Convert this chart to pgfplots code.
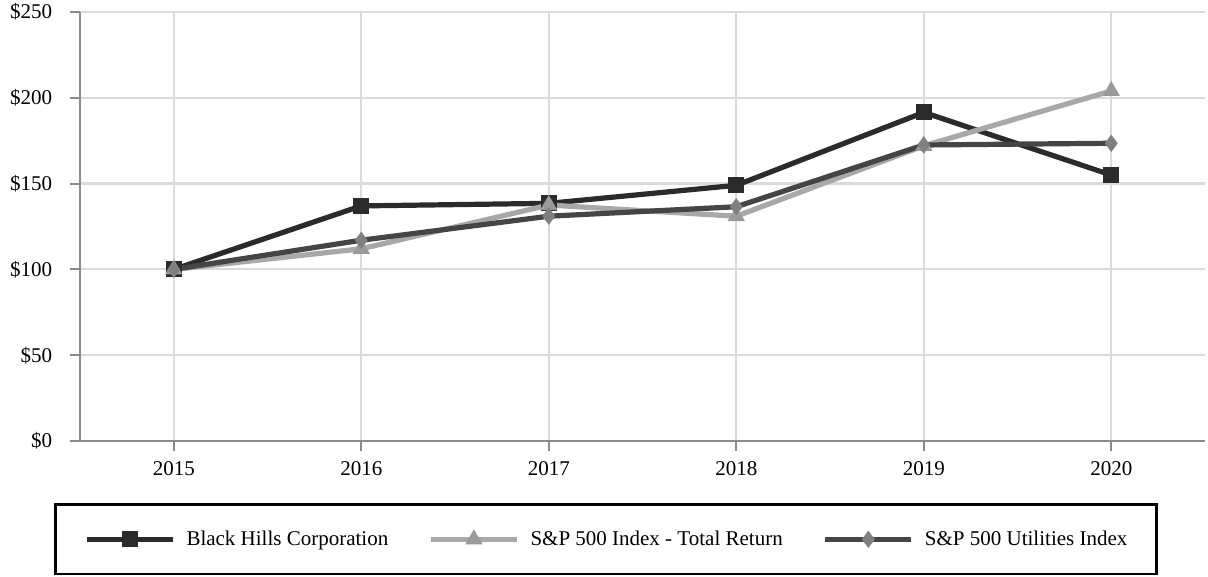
\documentclass[border=0pt]{standalone}
\usepackage{fontspec}
\setmainfont{Liberation Serif}
\usepackage{pgfplots}
\pgfplotsset{compat=1.18}
\definecolor{bhc}{HTML}{2B2B2B}
\definecolor{spc}{HTML}{A8A8A8}
\definecolor{spm}{HTML}{9A9A9A}
\definecolor{utc}{HTML}{454545}
\definecolor{utm}{HTML}{808080}
\definecolor{gridc}{HTML}{DADADA}
\definecolor{axc}{HTML}{8C8C8C}
\begin{document}
\begin{tikzpicture}
\begin{axis}[
  scale only axis, width=562.5pt, height=214.5pt,
  xmin=2014.5, xmax=2020.5, ymin=0, ymax=250,
  axis lines=left, axis line style={-, axc, line width=1.2pt},
  xtick={2015,2016,2017,2018,2019,2020},
  xticklabels={2015,2016,2017,2018,2019,2020},
  ytick={0,50,100,150,200,250},
  yticklabels={\$0,\$50,\$100,\$150,\$200,\$250},
  tick align=outside, major tick length=5pt,
  tick style={axc, line width=1pt},
  xmajorgrids, ymajorgrids,
  grid style={gridc, line width=1.1pt},
  ticklabel style={font=\fontsize{10.5}{12.6}\selectfont},
  yticklabel style={xshift=-5.5pt},
  xticklabel style={yshift=-1.5pt},
  clip=false,
  legend columns=3,
  legend cell align=left,
  legend style={at={(0,0)}, anchor=north west, xshift=-13pt, yshift=-31pt,
    draw=black, line width=1.3pt, inner xsep=14.5pt, inner ysep=13pt,
    font=\fontsize{10.5}{12.6}\selectfont,
    nodes={inner sep=0pt},
    /tikz/every odd column/.append style={column sep=5.5pt},
    /tikz/every even column/.append style={column sep=20pt}},
  legend image code/.code={\draw[#1, mark repeat=2, mark phase=2] plot coordinates {(0pt,0pt) (21.5pt,0pt) (43pt,0pt)};},
]
\coordinate (O) at (rel axis cs:0,0);
\addplot[bhc, line width=2.6pt, mark=square*, mark size=3.8pt, mark options={solid, fill=bhc, draw=bhc, line width=0.5pt}]
  coordinates {(2015,100) (2016,137) (2017,138.5) (2018,149) (2019,191.5) (2020,155)};
\addlegendentry{Black Hills Corporation}
\addplot[spc, line width=2.6pt, mark=triangle*, mark size=4.5pt, mark options={solid, fill=spm, draw=spm, line width=0.5pt}]
  coordinates {(2015,100) (2016,112) (2017,137.5) (2018,131) (2019,172) (2020,204)};
\addlegendentry{S\&P 500 Index - Total Return}
\addplot[utc, line width=2.6pt, mark=diamond*, mark size=3.9pt, mark options={solid, fill=utm, draw=utm, line width=0.5pt}]
  coordinates {(2015,100) (2016,117) (2017,131) (2018,136.5) (2019,172.5) (2020,173.5)};
\addlegendentry{S\&P 500 Utilities Index}
\end{axis}
\pgfresetboundingbox
\path ([xshift=-40pt,yshift=-68pt]O) rectangle ([xshift=564pt,yshift=220.5pt]O);
\end{tikzpicture}
\end{document}
